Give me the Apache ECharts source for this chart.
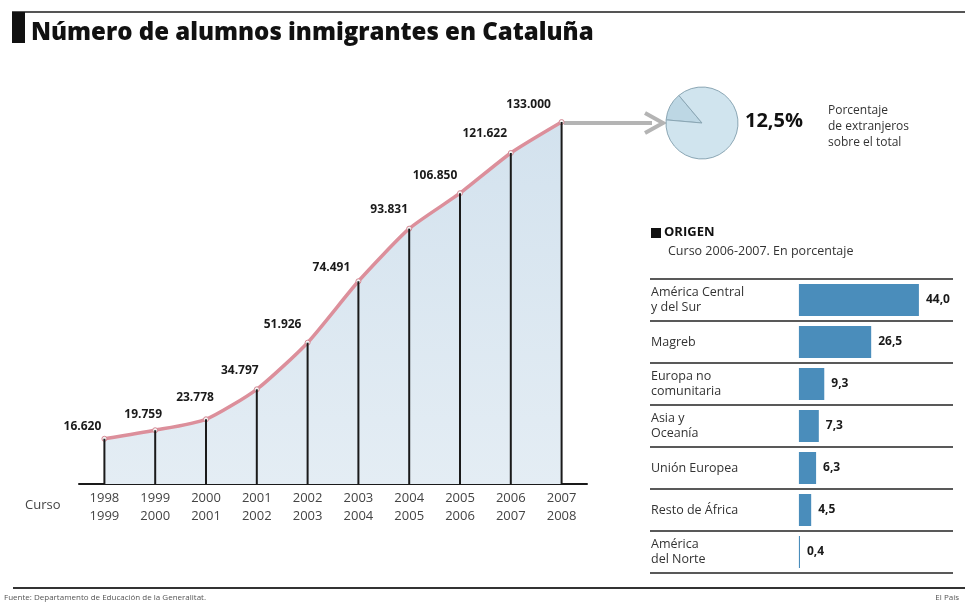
<!DOCTYPE html>
<html>
<head>
<meta charset="utf-8">
<script src="https://cdn.jsdelivr.net/npm/echarts@6/dist/echarts.min.js"></script>
<style>
html,body{margin:0;padding:0;background:#fff;}
#chart{width:965px;height:607px;}
</style>
</head>
<body>
<div id="chart"></div>
<script>
// ---- Data ----
var cursos = ['1998\n1999','1999\n2000','2000\n2001','2001\n2002','2002\n2003','2003\n2004','2004\n2005','2005\n2006','2006\n2007','2007\n2008'];
var alumnos = [16620, 19759, 23778, 34797, 51926, 74491, 93831, 106850, 121622, 133000];
var origenes = ['América Central\ny del Sur','Magreb','Europa no\ncomunitaria','Asia y\nOceanía','Unión Europea','Resto de África','América\ndel Norte'];
var porcentajes = [44.0, 26.5, 9.3, 7.3, 6.3, 4.5, 0.4];
var extranjerosPct = 12.5;

// ---- Layout (label nudges, not data) ----
var labelShift = [[-22,2],[-12,-2],[-11,-8],[-17,-5],[-25,-4],[-27,0],[-20,-5],[-25,-4],[-26,-5],[-33,-3]];

function fmtMiles(v){ return String(v).replace(/\B(?=(\d{3})+(?!\d))/g,'.'); }
function fmtDec(v){ return v.toFixed(1).replace('.',','); }

var FONT = '"Open Sans", "Noto Sans", sans-serif';
var chart = echarts.init(document.getElementById('chart'), null, {renderer:'canvas'});

var lineData = alumnos.map(function(v,i){
  return {value:v, label:{offset:labelShift[i]}};
});

var option = {
  backgroundColor:'#ffffff',
  animation:false,
  textStyle:{fontFamily:FONT},
  grid:[
    {left:79, right:378, top:103, bottom:123},
    {left:650, right:12, top:279, bottom:34}
  ],
  xAxis:[
    {gridIndex:0, type:'category', data:cursos, boundaryGap:true,
     axisLine:{lineStyle:{color:'#1a1a1a', width:2}},
     axisTick:{show:false},
     axisLabel:{color:'#444', fontSize:13, lineHeight:18, margin:5, fontFamily:FONT}},
    {gridIndex:1, type:'value', min:-54.6, max:56.5, show:false}
  ],
  yAxis:[
    {gridIndex:0, type:'value', min:0, max:140000, show:false},
    {gridIndex:1, type:'category', data:origenes, inverse:true,
     axisLine:{show:false}, axisTick:{show:false},
     axisLabel:{inside:true, margin:1, color:'#333', fontSize:12.5, lineHeight:15, fontFamily:FONT},
     splitLine:{show:true, lineStyle:{color:'#222', width:1.5}}}
  ],
  series:[
    {type:'bar', xAxisIndex:0, yAxisIndex:0, data:alumnos, barWidth:2,
     itemStyle:{color:'#1a1a1a'}, z:5},
    {type:'line', xAxisIndex:0, yAxisIndex:0, data:lineData, smooth:0.2,
     symbol:'circle', symbolSize:5,
     itemStyle:{color:'#f4f4f4', borderColor:'#d48893', borderWidth:1},
     lineStyle:{color:'#dc8f9b', width:3.5},
     areaStyle:{color:new echarts.graphic.LinearGradient(0,0,0,1,[{offset:0,color:'#d3e2ee'},{offset:1,color:'#e4edf4'}]), opacity:1},
     label:{show:true, position:'top', distance:5, color:'#1a1a1a', fontSize:12, fontWeight:'bold', fontFamily:FONT,
       formatter:function(p){return fmtMiles(p.value);}},
     z:4},
    {type:'bar', xAxisIndex:1, yAxisIndex:1, data:porcentajes, barWidth:32,
     itemStyle:{color:'#4a8dbb'},
     label:{show:true, position:'right', distance:7, color:'#1a1a1a', fontSize:12, fontWeight:'bold', fontFamily:FONT,
       formatter:function(p){return fmtDec(p.value);}}},
    {type:'pie', center:[702,123], radius:36, startAngle:175, clockwise:true,
     silent:true, label:{show:false}, labelLine:{show:false},
     data:[{value:extranjerosPct, itemStyle:{color:'#bdd7e4'}},{value:100-extranjerosPct, itemStyle:{color:'#d0e4ee'}}],
     itemStyle:{borderColor:'#8aa6b4', borderWidth:1}}
  ],
  graphic:[
    {type:'line', shape:{x1:12,y1:12,x2:965,y2:12}, style:{stroke:'#555', lineWidth:2}},
    {type:'rect', shape:{x:12,y:12,width:13,height:31}, style:{fill:'#111'}},
    {type:'text', left:31, top:21, style:{text:'Número de alumnos inmigrantes en Cataluña', font:'800 24px "Open Sans", sans-serif', fill:'#111'}},
    // arrow
    {type:'line', shape:{x1:564,y1:123,x2:652,y2:123}, style:{stroke:'#b4b4b4', lineWidth:4}},
    {type:'polyline', shape:{points:[[645,113],[663,123],[645,133]]}, style:{stroke:'#b4b4b4', lineWidth:4, fill:null}},
    {type:'text', left:745, top:111, style:{text:'12,5%', font:'bold 20px "Open Sans", sans-serif', fill:'#111'}},
    {type:'text', left:828, top:103, style:{text:'Porcentaje\nde extranjeros\nsobre el total', font:'12px "Open Sans", sans-serif', lineHeight:16, fill:'#333'}},
    {type:'rect', shape:{x:651,y:228,width:10,height:10}, style:{fill:'#111'}},
    {type:'text', left:664, top:226, style:{text:'ORIGEN', font:'bold 13px "Open Sans", sans-serif', fill:'#111'}},
    {type:'text', left:668, top:245, style:{text:'Curso 2006-2007. En porcentaje', font:'12.5px "Open Sans", sans-serif', fill:'#333'}},
    {type:'text', left:25, top:499, style:{text:'Curso', font:'13px "Open Sans", sans-serif', fill:'#444'}},
    {type:'line', shape:{x1:13,y1:588,x2:965,y2:588}, style:{stroke:'#333', lineWidth:2}},
    {type:'text', left:4, top:594, style:{text:'Fuente: Departamento de Educación de la Generalitat.', font:'8px "Open Sans", sans-serif', fill:'#555'}},
    {type:'text', right:6, top:594, style:{text:'El País', font:'8px "Open Sans", sans-serif', fill:'#555'}}
  ]
};
chart.setOption(option);
</script>
</body>
</html>
